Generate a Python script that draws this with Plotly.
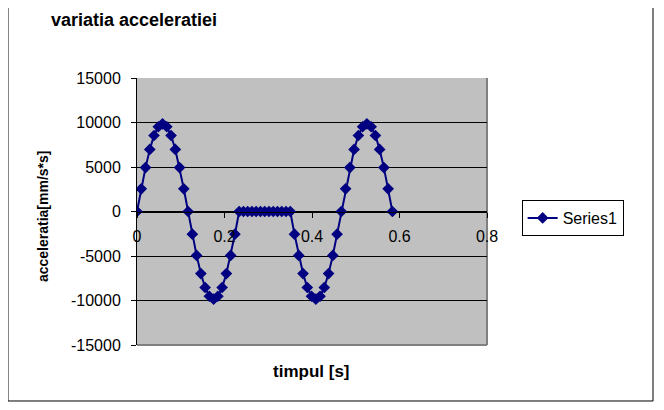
import plotly.graph_objects as go

# time [s]
timpul = [0.0, 0.0097, 0.0195, 0.0292, 0.0389, 0.0487, 0.0584, 0.0681, 0.0778, 0.0876,
          0.0973, 0.1070, 0.1168, 0.1265, 0.1362, 0.1460, 0.1557, 0.1654, 0.1751, 0.1849,
          0.1946, 0.2043, 0.2141, 0.2238, 0.2335, 0.2433, 0.2530, 0.2627, 0.2724, 0.2822,
          0.2919, 0.3016, 0.3114, 0.3211, 0.3308, 0.3406, 0.3503, 0.3600, 0.3697, 0.3795,
          0.3892, 0.3989, 0.4087, 0.4184, 0.4281, 0.4379, 0.4476, 0.4573, 0.4670, 0.4768,
          0.4865, 0.4962, 0.5060, 0.5157, 0.5254, 0.5352, 0.5449, 0.5546, 0.5643, 0.5741,
          0.5838]

# acceleration [mm/s*s]
acceleratia = [0, 2550, 4930, 6970, 8540, 9520, 9850, 9520, 8540, 6970,
               4930, 2550, 0, -2550, -4930, -6970, -8540, -9520, -9850, -9520,
               -8540, -6970, -4930, -2550, 0, 0, 0, 0, 0, 0,
               0, 0, 0, 0, 0, 0, 0, -2550, -4930, -6970,
               -8540, -9520, -9850, -9520, -8540, -6970, -4930, -2550, 0, 2550,
               4930, 6970, 8540, 9520, 9850, 9520, 8540, 6970, 4930, 2550,
               0]

x_ticks = [0, 0.2, 0.4, 0.6, 0.8]
x_ticklabels = ["0", "0.2", "0.4", "0.6", "0.8"]
y_ticks = [-15000, -10000, -5000, 0, 5000, 10000, 15000]
y_ticklabels = ["-15000", "-10000", "-5000", "0", "5000", "10000", "15000"]

FONT = "Liberation Sans, Arial, sans-serif"
NAVY = "#000080"

fig = go.Figure()
fig.add_trace(go.Scatter(
    x=timpul, y=acceleratia, mode="lines+markers", name="Series1",
    line=dict(color=NAVY, width=2),
    marker=dict(symbol="diamond", size=9, color=NAVY),
))

fig.update_layout(
    width=664, height=410,
    margin=dict(l=129, r=185, t=70, b=73, autoexpand=False),
    paper_bgcolor="white",
    plot_bgcolor="#C0C0C0",
    font=dict(family=FONT, size=16, color="black"),
    title=dict(text="<b>variatia acceleratiei</b>", x=43/664, xanchor="left",
               xref="container", y=1-12/410, yanchor="middle",
               font=dict(family=FONT, size=18, color="black")),
    showlegend=True,
    legend=dict(x=1.099, y=0.543, xanchor="left", yanchor="top",
                bgcolor="white", bordercolor="black", borderwidth=1,
                font=dict(family=FONT, size=16, color="black")),
    xaxis=dict(range=[0, 0.8], tickvals=x_ticks, ticktext=x_ticklabels,
               anchor="free", position=0.5, showline=True, linecolor="black",
               linewidth=1, ticks="outside", ticklen=5, tickcolor="black",
               ticklabelstandoff=5, showgrid=False, zeroline=False, automargin=False),
    yaxis=dict(range=[-15000, 15000], tickvals=y_ticks, ticktext=y_ticklabels,
               showline=True, linecolor="black", linewidth=1, ticks="outside",
               ticklen=5, tickcolor="black", ticklabelstandoff=7, showgrid=True,
               gridcolor="black", gridwidth=1, zeroline=False, automargin=False),
    annotations=[
        dict(text="<b>timpul [s]</b>", x=0.499, y=-0.101, xref="paper", yref="paper",
             showarrow=False, xanchor="center", yanchor="middle",
             font=dict(family=FONT, size=17, color="black")),
        dict(text="<b>acceleratia[mm/s*s]</b>", x=-0.2686, y=0.483, xref="paper",
             yref="paper", showarrow=False, textangle=-90, xanchor="center",
             yanchor="middle", font=dict(family=FONT, size=14, color="black")),
    ],
    shapes=[
        dict(type="rect", xref="paper", yref="paper", x0=-0.3686, x1=1.4743,
             y0=-0.2097, y1=1.266, line=dict(color="black", width=1), layer="above"),
        dict(type="line", xref="paper", yref="paper", x0=1, x1=1, y0=0, y1=1,
             line=dict(color="#808080", width=2), layer="between"),
        dict(type="line", xref="paper", yref="paper", x0=0, x1=1, y0=0, y1=0,
             line=dict(color="#808080", width=2), layer="between"),
    ],
)

fig.write_html("out.html")
